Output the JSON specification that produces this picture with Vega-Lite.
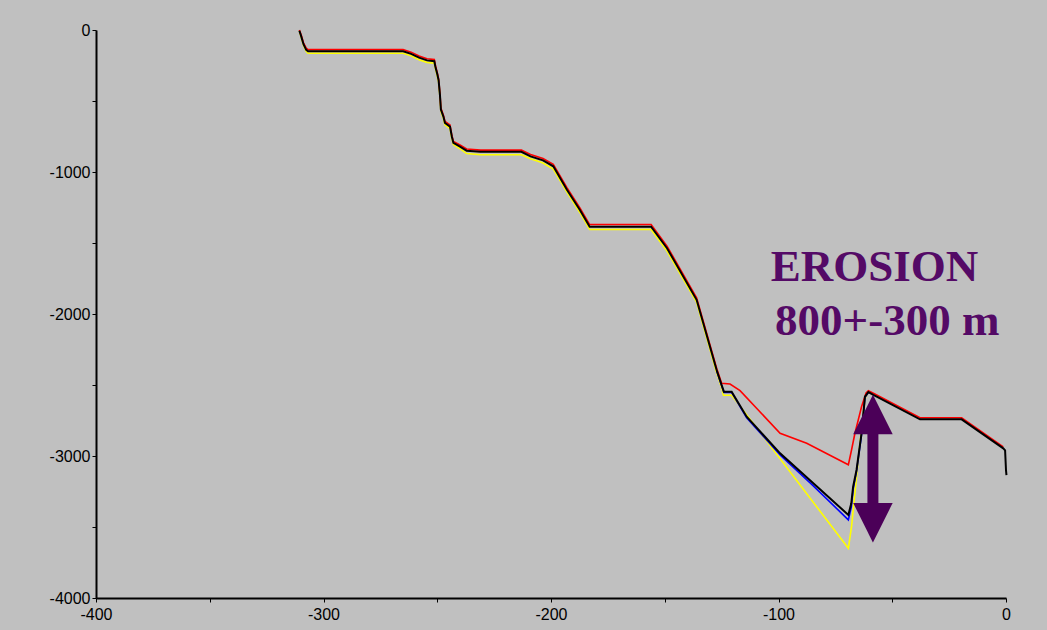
{
  "$schema": "https://vega.github.io/schema/vega-lite/v6.json",
  "autosize": "none",
  "width": 910,
  "height": 568,
  "padding": {"left": 96, "top": 30, "right": 41, "bottom": 32},
  "background": "#c0c0c0",
  "config": {
    "view": {"stroke": null},
    "axis": {
      "domainColor": "#000000",
      "domainWidth": 2,
      "tickColor": "#000000",
      "tickWidth": 1,
      "tickSize": 4,
      "grid": false,
      "labelFont": "Liberation Sans",
      "labelFontSize": 16,
      "labelColor": "#000000",
      "title": null
    }
  },
  "datasets": {
    "profiles": [
      {"series": "yellow", "x": -310.6, "y": -8},
      {"series": "yellow", "x": -309.8, "y": -52},
      {"series": "yellow", "x": -308.8, "y": -108},
      {"series": "yellow", "x": -307.6, "y": -150},
      {"series": "yellow", "x": -306.8, "y": -164},
      {"series": "yellow", "x": -265.0, "y": -164},
      {"series": "yellow", "x": -261.5, "y": -182},
      {"series": "yellow", "x": -258.0, "y": -209},
      {"series": "yellow", "x": -254.5, "y": -228},
      {"series": "yellow", "x": -251.3, "y": -234},
      {"series": "yellow", "x": -250.8, "y": -272},
      {"series": "yellow", "x": -250.0, "y": -322},
      {"series": "yellow", "x": -249.4, "y": -367},
      {"series": "yellow", "x": -248.8, "y": -472},
      {"series": "yellow", "x": -248.4, "y": -572},
      {"series": "yellow", "x": -247.3, "y": -622},
      {"series": "yellow", "x": -246.6, "y": -667},
      {"series": "yellow", "x": -244.4, "y": -694},
      {"series": "yellow", "x": -243.6, "y": -762},
      {"series": "yellow", "x": -242.9, "y": -807},
      {"series": "yellow", "x": -240.0, "y": -836},
      {"series": "yellow", "x": -237.1, "y": -870},
      {"series": "yellow", "x": -231.0, "y": -878},
      {"series": "yellow", "x": -213.0, "y": -878},
      {"series": "yellow", "x": -209.0, "y": -907},
      {"series": "yellow", "x": -203.5, "y": -937},
      {"series": "yellow", "x": -199.0, "y": -980},
      {"series": "yellow", "x": -193.0, "y": -1142},
      {"series": "yellow", "x": -187.3, "y": -1285},
      {"series": "yellow", "x": -183.0, "y": -1405},
      {"series": "yellow", "x": -156.0, "y": -1405},
      {"series": "yellow", "x": -149.0, "y": -1557},
      {"series": "yellow", "x": -136.0, "y": -1917},
      {"series": "yellow", "x": -127.2, "y": -2412},
      {"series": "yellow", "x": -125.0, "y": -2520},
      {"series": "yellow", "x": -124.2, "y": -2572},
      {"series": "yellow", "x": -120.6, "y": -2572},
      {"series": "yellow", "x": -69.3, "y": -3650},
      {"series": "yellow", "x": -67.9, "y": -3498},
      {"series": "yellow", "x": -64.2, "y": -2910},
      {"series": "yellow", "x": -62.0, "y": -2595},
      {"series": "yellow", "x": -60.5, "y": -2552},

      {"series": "blue", "x": -127.2, "y": -2400},
      {"series": "blue", "x": -125.0, "y": -2506},
      {"series": "blue", "x": -124.0, "y": -2552},
      {"series": "blue", "x": -120.6, "y": -2552},
      {"series": "blue", "x": -114.0, "y": -2730},
      {"series": "blue", "x": -99.3, "y": -2992},
      {"series": "blue", "x": -84.7, "y": -3210},
      {"series": "blue", "x": -69.3, "y": -3450},
      {"series": "blue", "x": -68.0, "y": -3360},
      {"series": "blue", "x": -67.2, "y": -3235},
      {"series": "blue", "x": -65.7, "y": -3110},
      {"series": "blue", "x": -63.5, "y": -2850},
      {"series": "blue", "x": -62.0, "y": -2588},
      {"series": "blue", "x": -60.5, "y": -2553},

      {"series": "red", "x": -310.6, "y": 0},
      {"series": "red", "x": -309.8, "y": -36},
      {"series": "red", "x": -308.8, "y": -90},
      {"series": "red", "x": -307.6, "y": -128},
      {"series": "red", "x": -306.8, "y": -138},
      {"series": "red", "x": -265.0, "y": -138},
      {"series": "red", "x": -261.5, "y": -156},
      {"series": "red", "x": -258.0, "y": -183},
      {"series": "red", "x": -254.5, "y": -202},
      {"series": "red", "x": -251.3, "y": -208},
      {"series": "red", "x": -250.8, "y": -250},
      {"series": "red", "x": -250.0, "y": -300},
      {"series": "red", "x": -249.4, "y": -345},
      {"series": "red", "x": -248.8, "y": -450},
      {"series": "red", "x": -248.4, "y": -550},
      {"series": "red", "x": -247.3, "y": -600},
      {"series": "red", "x": -246.6, "y": -644},
      {"series": "red", "x": -244.4, "y": -668},
      {"series": "red", "x": -243.6, "y": -740},
      {"series": "red", "x": -242.9, "y": -784},
      {"series": "red", "x": -240.0, "y": -810},
      {"series": "red", "x": -237.1, "y": -838},
      {"series": "red", "x": -231.0, "y": -846},
      {"series": "red", "x": -213.0, "y": -846},
      {"series": "red", "x": -209.0, "y": -876},
      {"series": "red", "x": -203.5, "y": -905},
      {"series": "red", "x": -199.0, "y": -946},
      {"series": "red", "x": -193.0, "y": -1110},
      {"series": "red", "x": -187.3, "y": -1253},
      {"series": "red", "x": -183.0, "y": -1370},
      {"series": "red", "x": -156.0, "y": -1370},
      {"series": "red", "x": -149.0, "y": -1522},
      {"series": "red", "x": -136.0, "y": -1886},
      {"series": "red", "x": -127.2, "y": -2382},
      {"series": "red", "x": -125.0, "y": -2488},
      {"series": "red", "x": -121.3, "y": -2493},
      {"series": "red", "x": -116.9, "y": -2540},
      {"series": "red", "x": -99.3, "y": -2840},
      {"series": "red", "x": -87.6, "y": -2910},
      {"series": "red", "x": -69.3, "y": -3062},
      {"series": "red", "x": -67.9, "y": -2958},
      {"series": "red", "x": -66.4, "y": -2840},
      {"series": "red", "x": -63.5, "y": -2653},
      {"series": "red", "x": -61.5, "y": -2556},
      {"series": "red", "x": -60.5, "y": -2540},
      {"series": "red", "x": -58.3, "y": -2558},
      {"series": "red", "x": -37.8, "y": -2731},
      {"series": "red", "x": -19.5, "y": -2731},
      {"series": "red", "x": -1.2, "y": -2936},

      {"series": "black", "x": -310.6, "y": -5},
      {"series": "black", "x": -309.8, "y": -45},
      {"series": "black", "x": -308.8, "y": -100},
      {"series": "black", "x": -307.6, "y": -140},
      {"series": "black", "x": -306.8, "y": -150},
      {"series": "black", "x": -265.0, "y": -150},
      {"series": "black", "x": -261.5, "y": -168},
      {"series": "black", "x": -258.0, "y": -195},
      {"series": "black", "x": -254.5, "y": -214},
      {"series": "black", "x": -251.3, "y": -220},
      {"series": "black", "x": -250.8, "y": -260},
      {"series": "black", "x": -250.0, "y": -310},
      {"series": "black", "x": -249.4, "y": -355},
      {"series": "black", "x": -248.8, "y": -460},
      {"series": "black", "x": -248.4, "y": -560},
      {"series": "black", "x": -247.3, "y": -610},
      {"series": "black", "x": -246.6, "y": -655},
      {"series": "black", "x": -244.4, "y": -680},
      {"series": "black", "x": -243.6, "y": -750},
      {"series": "black", "x": -242.9, "y": -795},
      {"series": "black", "x": -240.0, "y": -822},
      {"series": "black", "x": -237.1, "y": -850},
      {"series": "black", "x": -231.0, "y": -858},
      {"series": "black", "x": -213.0, "y": -858},
      {"series": "black", "x": -209.0, "y": -890},
      {"series": "black", "x": -203.5, "y": -918},
      {"series": "black", "x": -199.0, "y": -960},
      {"series": "black", "x": -193.0, "y": -1125},
      {"series": "black", "x": -187.3, "y": -1268},
      {"series": "black", "x": -183.0, "y": -1385},
      {"series": "black", "x": -156.0, "y": -1385},
      {"series": "black", "x": -149.0, "y": -1537},
      {"series": "black", "x": -136.0, "y": -1900},
      {"series": "black", "x": -127.2, "y": -2394},
      {"series": "black", "x": -125.0, "y": -2500},
      {"series": "black", "x": -124.0, "y": -2547},
      {"series": "black", "x": -120.6, "y": -2547},
      {"series": "black", "x": -114.0, "y": -2723},
      {"series": "black", "x": -99.3, "y": -2981},
      {"series": "black", "x": -84.7, "y": -3192},
      {"series": "black", "x": -69.3, "y": -3415},
      {"series": "black", "x": -68.0, "y": -3333},
      {"series": "black", "x": -67.2, "y": -3216},
      {"series": "black", "x": -65.7, "y": -3098},
      {"series": "black", "x": -63.5, "y": -2840},
      {"series": "black", "x": -62.0, "y": -2582},
      {"series": "black", "x": -60.5, "y": -2550},
      {"series": "black", "x": -58.3, "y": -2570},
      {"series": "black", "x": -37.8, "y": -2742},
      {"series": "black", "x": -19.5, "y": -2742},
      {"series": "black", "x": -1.2, "y": -2946},
      {"series": "black", "x": -0.4, "y": -2960},
      {"series": "black", "x": 0.0, "y": -3100},
      {"series": "black", "x": 0.2, "y": -3135}
    ],
    "arrowShaft": [
      {"x": -58.5, "y": -2830, "y2": -3345}
    ],
    "arrowHeads": [
      {"x": -58.5, "y": -2708, "dir": "up"},
      {"x": -58.5, "y": -3470, "dir": "down"}
    ],
    "notes": [
      {"label": "EROSION", "x": -103.4, "y": -1765},
      {"label": "800+-300 m", "x": -101.5, "y": -2148}
    ]
  },
  "layer": [
    {
      "data": {"name": "profiles"},
      "transform": [{"filter": "datum.series === 'yellow'"}],
      "mark": {"type": "line", "color": "#ffff00", "strokeWidth": 1.6, "clip": false},
      "encoding": {
        "x": {"field": "x", "type": "quantitative", "scale": {"domain": [-400, 0], "nice": false, "zero": false},
          "axis": {"values": [-400, -350, -300, -250, -200, -150, -100, -50, 0], "labelExpr": "datum.value % 100 === 0 ? '' + datum.value : ''", "labelFlush": false, "labelPadding": 4}},
        "y": {"field": "y", "type": "quantitative", "scale": {"domain": [-4000, 0], "nice": false, "zero": false},
          "axis": {"values": [-4000, -3500, -3000, -2500, -2000, -1500, -1000, -500, 0], "labelExpr": "datum.value % 1000 === 0 ? '' + datum.value : ''", "labelPadding": 2}}
      }
    },
    {
      "data": {"name": "profiles"},
      "transform": [{"filter": "datum.series === 'blue'"}],
      "mark": {"type": "line", "color": "#0000ff", "strokeWidth": 1.6, "clip": false},
      "encoding": {
        "x": {"field": "x", "type": "quantitative"},
        "y": {"field": "y", "type": "quantitative"}
      }
    },
    {
      "data": {"name": "profiles"},
      "transform": [{"filter": "datum.series === 'red'"}],
      "mark": {"type": "line", "color": "#ff0000", "strokeWidth": 1.6, "clip": false},
      "encoding": {
        "x": {"field": "x", "type": "quantitative"},
        "y": {"field": "y", "type": "quantitative"}
      }
    },
    {
      "data": {"name": "profiles"},
      "transform": [{"filter": "datum.series === 'black'"}],
      "mark": {"type": "line", "color": "#000000", "strokeWidth": 2, "clip": false},
      "encoding": {
        "x": {"field": "x", "type": "quantitative"},
        "y": {"field": "y", "type": "quantitative"}
      }
    },
    {
      "data": {"name": "arrowShaft"},
      "mark": {"type": "rule", "color": "#4b0058", "strokeWidth": 11, "strokeCap": "butt"},
      "encoding": {
        "x": {"field": "x", "type": "quantitative"},
        "y": {"field": "y", "type": "quantitative"},
        "y2": {"field": "y2"}
      }
    },
    {
      "data": {"name": "arrowHeads"},
      "mark": {"type": "point", "filled": true, "color": "#4b0058", "opacity": 1, "size": 1560, "strokeWidth": 0},
      "encoding": {
        "x": {"field": "x", "type": "quantitative"},
        "y": {"field": "y", "type": "quantitative"},
        "shape": {"field": "dir", "type": "nominal", "legend": null,
          "scale": {"domain": ["up", "down"], "range": ["M0,-1L1,1L-1,1Z", "M-1,-1L1,-1L0,1Z"]}}
      }
    },
    {
      "data": {"name": "notes"},
      "mark": {"type": "text", "align": "left", "baseline": "alphabetic", "font": "Liberation Serif", "fontWeight": "bold", "fontSize": 45, "color": "#540a66"},
      "encoding": {
        "x": {"field": "x", "type": "quantitative"},
        "y": {"field": "y", "type": "quantitative"},
        "text": {"field": "label"}
      }
    }
  ]
}
